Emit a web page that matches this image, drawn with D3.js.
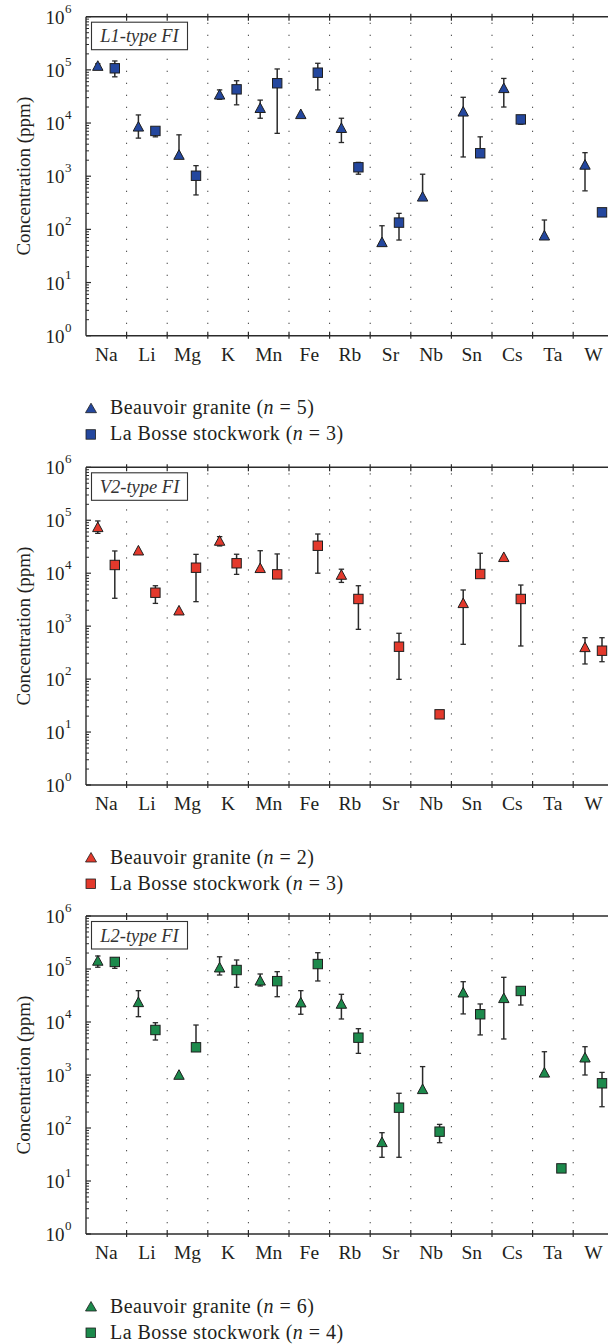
<!DOCTYPE html>
<html><head><meta charset="utf-8">
<script src="https://cdn.jsdelivr.net/npm/d3@7"></script>
<style>body{margin:0;background:#fff} svg{display:block}</style>
</head><body><svg id="c" width="608" height="1344"></svg>
<script>
const categories = ["Na","Li","Mg","K","Mn","Fe","Rb","Sr","Nb","Sn","Cs","Ta","W"];
const yTickExponents = [0,1,2,3,4,5,6];
const panelTitles = ["L1-type FI","V2-type FI","L2-type FI"];
const beauvoirN = [5,2,6];
const bosseN = [3,3,4];
const seriesColors = ["#24479e","#e3392c","#1c8a4c"];

// L1-type FI
const l1BeauvoirVal = [1.18e5, 8.5e3, 2.5e3, 3.4e4, 1.9e4, 1.46e4, 8.0e3, 57, 410, 1.63e4, 4.5e4, 76, 1.63e3];
const l1BeauvoirLo  = [1.05e5, 5.2e3, 2.2e3, 2.8e4, 1.23e4, null, 4.3e3, null, null, 2.3e3, 2.0e4, null, 530];
const l1BeauvoirHi  = [1.3e5, 1.42e4, 6.0e3, 4.2e4, 2.7e4, null, 1.23e4, 117, 1.09e3, 3.05e4, 6.9e4, 150, 2.77e3];
const l1BosseVal = [1.07e5, 7.1e3, 1.02e3, 4.3e4, 5.6e4, 8.85e4, 1.47e3, 134, null, 2.7e3, 1.17e4, null, 209];
const l1BosseLo  = [7.4e4, 5.5e3, 444, 2.2e4, 6.4e3, 4.2e4, 1.09e3, 63, null, null, 9.5e3, null, null];
const l1BosseHi  = [1.47e5, 8.0e3, 1.58e3, 6.25e4, 1.04e5, 1.33e5, 1.82e3, 200, null, 5.5e3, 1.3e4, null, null];

// V2-type FI
const v2BeauvoirVal = [7.36e4, 2.66e4, 1.96e3, 4.06e4, 1.24e4, null, 9.25e3, null, null, 2.7e3, 2.0e4, null, 398];
const v2BeauvoirLo  = [5.66e4, null, null, 3.27e4, null, null, 6.7e3, null, null, 454, null, null, 193];
const v2BeauvoirHi  = [9.7e4, null, null, 4.9e4, 2.66e4, null, 1.19e4, null, null, 4.82e3, null, null, 605];
const v2BosseVal = [1.43e4, 4.28e3, 1.27e4, 1.54e4, 9.5e3, 3.3e4, 3.26e3, 409, 21.6, 9.66e3, 3.26e3, null, 344];
const v2BosseLo  = [3.36e3, 2.69e3, 2.9e3, 9.5e3, null, 1.0e4, 871, 99, null, null, 422, null, 213];
const v2BosseHi  = [2.63e4, 5.8e3, 2.27e4, 2.28e4, 2.31e4, 5.5e4, 5.8e3, 733, null, 2.38e4, 5.98e3, null, 605];

// L2-type FI
const l2BeauvoirVal = [1.42e5, 2.35e4, 1.0e3, 1.06e5, 6.0e4, 2.32e4, 2.19e4, 53.7, 537, 3.57e4, 2.8e4, 1.1e3, 2.12e3];
const l2BeauvoirLo  = [1.08e5, 1.26e4, null, 7.7e4, 4.78e4, 1.4e4, 1.14e4, 28, null, 1.42e4, 4.78e3, null, 1.0e3];
const l2BeauvoirHi  = [1.76e5, 3.9e4, null, 1.7e5, 8.05e4, 3.9e4, 3.33e4, 81.6, 1.44e3, 5.76e4, 6.97e4, 2.75e3, 3.42e3];
const l2BosseVal = [1.36e5, 7.07e3, 3.33e3, 9.57e4, 5.9e4, 1.24e5, 5.06e3, 242, 85.3, 1.4e4, 3.85e4, 17.3, 697];
const l2BosseLo  = [1.03e5, 4.57e3, null, 4.52e4, 3.0e4, 5.94e4, 2.56e3, 28, 52.8, 5.7e3, 2.09e4, null, 252];
const l2BosseHi  = [1.6e5, 9.7e3, 8.77e3, 1.48e5, 8.9e4, 2.03e5, 7.48e3, 452, 117, 2.19e4, 4.5e4, null, 1.12e3];

const panels = [
  {beauvoir:[l1BeauvoirVal,l1BeauvoirLo,l1BeauvoirHi], bosse:[l1BosseVal,l1BosseLo,l1BosseHi]},
  {beauvoir:[v2BeauvoirVal,v2BeauvoirLo,v2BeauvoirHi], bosse:[v2BosseVal,v2BosseLo,v2BosseHi]},
  {beauvoir:[l2BeauvoirVal,l2BeauvoirLo,l2BeauvoirHi], bosse:[l2BosseVal,l2BosseLo,l2BosseHi]}
];

const svg = d3.select("#c");
const FONT = "'Liberation Serif','Times New Roman',serif";
const TXT = "#231f20";
const AX = "#2b2b2b";
const left = 86, bandW = 40.6;
const tops = [16.7, 467.3, 916];
const bottoms = [335.7, 785, 1234];
const x = d3.scaleBand().domain(categories).range([left, left + bandW*categories.length]).padding(0);
const off = 8.5;

panels.forEach((p, pi) => {
  const top = tops[pi], bottom = bottoms[pi];
  const y = d3.scaleLog().domain([1, 1e6]).range([bottom, top]);
  const g = svg.append("g");

  // dotted dividers
  const dividers = categories.slice(1).map(c => x(c));
  g.selectAll(".div").data(dividers).join("line")
    .attr("x1", d => d).attr("x2", d => d).attr("y1", top+6).attr("y2", bottom)
    .attr("stroke", "#444").attr("stroke-width", 1).attr("stroke-dasharray", "1.3,10.7");

  // axes frame
  g.append("line").attr("x1", left).attr("x2", 608).attr("y1", top).attr("y2", top).attr("stroke", AX).attr("stroke-width", 1.4);
  g.append("line").attr("x1", left).attr("x2", 608).attr("y1", bottom).attr("y2", bottom).attr("stroke", AX).attr("stroke-width", 1.4);
  g.append("line").attr("x1", left).attr("x2", left).attr("y1", top).attr("y2", bottom).attr("stroke", AX).attr("stroke-width", 1.4);

  // x ticks at dividers
  g.selectAll(".xt").data(dividers).join("line")
    .attr("x1", d => d).attr("x2", d => d).attr("y1", bottom-4).attr("y2", bottom+3)
    .attr("stroke", AX).attr("stroke-width", 1.2);
  g.selectAll(".xtt").data(dividers).join("line")
    .attr("x1", d => d).attr("x2", d => d).attr("y1", top-3).attr("y2", top+4)
    .attr("stroke", AX).attr("stroke-width", 1.2);

  // y minor & major ticks
  const minor = [];
  for (let e = 0; e < 6; e++) for (let m = 2; m <= 9; m++) minor.push(m * Math.pow(10, e));
  g.selectAll(".ymn").data(minor).join("line")
    .attr("x1", left).attr("x2", left+3).attr("y1", d => y(d)).attr("y2", d => y(d))
    .attr("stroke", AX).attr("stroke-width", 1);
  g.selectAll(".ymj").data(yTickExponents).join("line")
    .attr("x1", left).attr("x2", left+5).attr("y1", d => y(Math.pow(10,d))).attr("y2", d => y(Math.pow(10,d)))
    .attr("stroke", AX).attr("stroke-width", 1.2);

  // y tick labels
  g.selectAll(".ylab").data(yTickExponents).join("text")
    .attr("x", 64.5).attr("y", d => y(Math.pow(10,d)) + 7)
    .attr("text-anchor", "end").attr("font-family", FONT).attr("font-size", 19).attr("fill", TXT)
    .text("10");
  g.selectAll(".ysup").data(yTickExponents).join("text")
    .attr("x", 65).attr("y", d => y(Math.pow(10,d)) - 4)
    .attr("font-family", FONT).attr("font-size", 13).attr("fill", TXT)
    .text(d => d);

  // y axis title
  g.append("text").attr("transform", `translate(30,${(top+bottom)/2}) rotate(-90)`)
    .attr("text-anchor", "middle").attr("font-family", FONT).attr("font-size", 19).attr("fill", TXT)
    .text("Concentration (ppm)");

  // x labels
  g.selectAll(".xlab").data(categories).join("text")
    .attr("x", d => x(d) + x.bandwidth()/2).attr("y", bottom + 25)
    .attr("text-anchor", "middle").attr("font-family", FONT).attr("font-size", 19.5).attr("fill", TXT)
    .text(d => d);

  // title box
  const tb = g.append("g");
  tb.append("rect").attr("x", 91.5).attr("y", top + 5.5).attr("width", 96).attr("height", 27.5)
    .attr("fill", "#fff").attr("stroke", "#333").attr("stroke-width", 1.1);
  tb.append("text").attr("x", 139.5).attr("y", top + 25.5).attr("text-anchor", "middle")
    .attr("font-family", FONT).attr("font-style", "italic").attr("font-size", 18.5).attr("fill", "#333")
    .text(panelTitles[pi]);

  const color = seriesColors[pi];
  const series = [
    {arr: p.beauvoir, dx: -off, shape: "tri"},
    {arr: p.bosse, dx: off, shape: "sq"}
  ];
  series.forEach(s => {
    const [vals, lo, hi] = s.arr;
    const pts = categories.map((c, i) => ({c, v: vals[i], lo: lo[i], hi: hi[i]})).filter(d => d.v != null);
    const cx = d => x(d.c) + x.bandwidth()/2 + s.dx;
    // error bars
    pts.forEach(d => {
      const yl0 = d.lo != null ? y(d.lo) : y(d.v);
      const yh0 = d.hi != null ? y(d.hi) : y(d.v);
      if (d.lo == null && d.hi == null) return;
      g.append("line").attr("x1", cx(d)).attr("x2", cx(d)).attr("y1", yh0).attr("y2", yl0)
        .attr("stroke", "#2a2a2a").attr("stroke-width", 1.5);
      if (d.hi != null) g.append("line").attr("x1", cx(d)-2.7).attr("x2", cx(d)+2.7).attr("y1", yh0).attr("y2", yh0)
        .attr("stroke", "#2a2a2a").attr("stroke-width", 1.3);
      if (d.lo != null) g.append("line").attr("x1", cx(d)-2.7).attr("x2", cx(d)+2.7).attr("y1", yl0).attr("y2", yl0)
        .attr("stroke", "#2a2a2a").attr("stroke-width", 1.3);
    });
    if (s.shape === "tri") {
      g.selectAll(null).data(pts).join("path")
        .attr("d", d => { const X = cx(d), Y = y(d.v); return `M${X},${Y-5.3}L${X+5.2},${Y+4.3}L${X-5.2},${Y+4.3}Z`; })
        .attr("fill", color).attr("stroke", "#1e1e1e").attr("stroke-width", 1);
    } else {
      g.selectAll(null).data(pts).join("rect")
        .attr("x", d => cx(d) - 4.7).attr("y", d => y(d.v) - 4.7).attr("width", 9.4).attr("height", 9.4)
        .attr("fill", color).attr("stroke", "#1e1e1e").attr("stroke-width", 1);
    }
  });

  // legend
  const ly1 = bottom + 72.5, ly2 = bottom + 98.5;
  g.append("path").attr("d", `M91,${ly1-5}L96.5,${ly1+4.5}L85.5,${ly1+4.5}Z`)
    .attr("fill", color).attr("stroke", "#1e1e1e").attr("stroke-width", 0.8);
  g.append("rect").attr("x", 86).attr("y", ly2 - 4.5).attr("width", 9.5).attr("height", 9.5)
    .attr("fill", color).attr("stroke", "#1e1e1e").attr("stroke-width", 0.8);
  const lg = {"font-family": FONT, "font-size": 20, "fill": TXT, "letter-spacing": 0.45};
  const t1 = g.append("text").attr("x", 110).attr("y", ly1 + 6);
  Object.entries(lg).forEach(([k,v]) => t1.attr(k, v));
  t1.append("tspan").text("Beauvoir granite (");
  t1.append("tspan").attr("font-style", "italic").text("n");
  t1.append("tspan").text(" = " + beauvoirN[pi] + ")");
  const t2 = g.append("text").attr("x", 110).attr("y", ly2 + 6);
  Object.entries(lg).forEach(([k,v]) => t2.attr(k, v));
  t2.append("tspan").text("La Bosse stockwork (");
  t2.append("tspan").attr("font-style", "italic").text("n");
  t2.append("tspan").text(" = " + bosseN[pi] + ")");
});
</script>
</body></html>
